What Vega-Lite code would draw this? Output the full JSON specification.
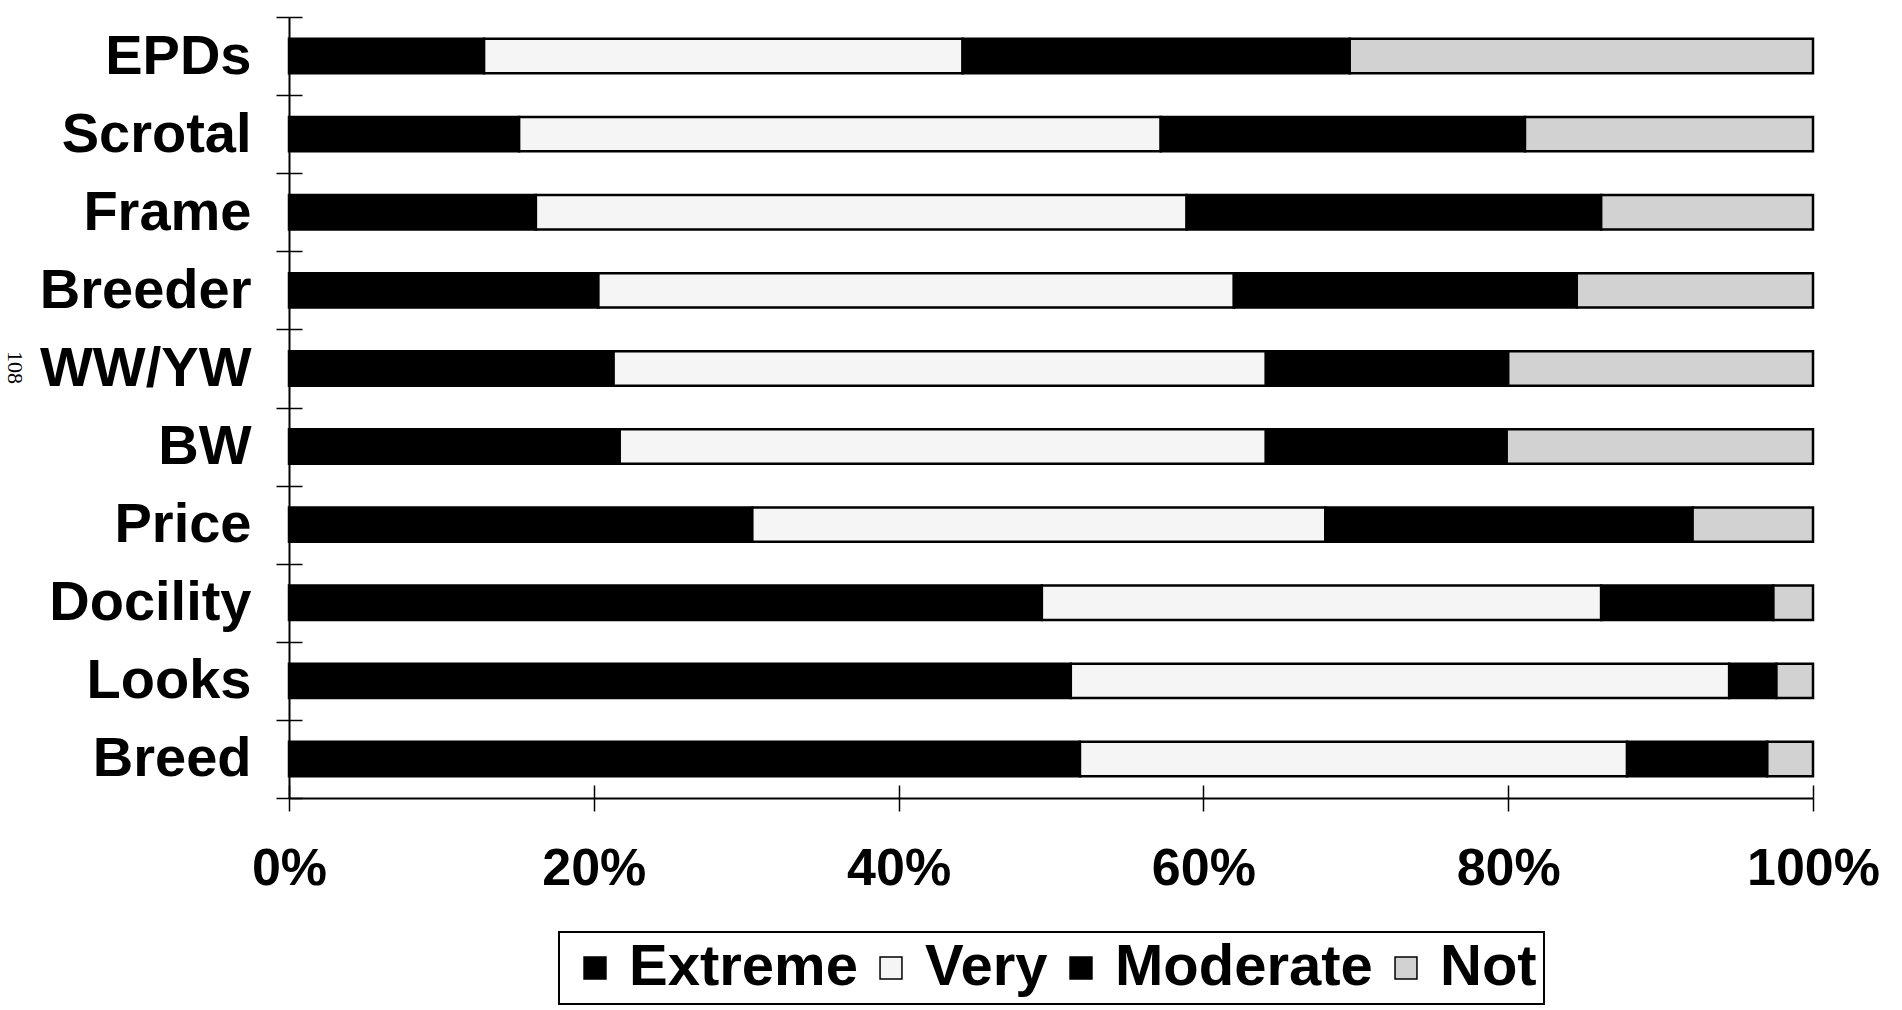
{
  "$schema": "https://vega.github.io/schema/vega-lite/v6.json",
  "autosize": "none",
  "width": 1524,
  "height": 781,
  "padding": {"left": 289, "top": 17, "right": 89, "bottom": 212},
  "background": "white",
  "data": {
    "values": [
      {"trait": "EPDs", "level": "Extreme", "rank": 1, "share": 12.8},
      {"trait": "EPDs", "level": "Very", "rank": 2, "share": 31.4},
      {"trait": "EPDs", "level": "Moderate", "rank": 3, "share": 25.4},
      {"trait": "EPDs", "level": "Not", "rank": 4, "share": 30.4},
      {"trait": "Scrotal", "level": "Extreme", "rank": 1, "share": 15.1},
      {"trait": "Scrotal", "level": "Very", "rank": 2, "share": 42.1},
      {"trait": "Scrotal", "level": "Moderate", "rank": 3, "share": 23.9},
      {"trait": "Scrotal", "level": "Not", "rank": 4, "share": 18.9},
      {"trait": "Frame", "level": "Extreme", "rank": 1, "share": 16.2},
      {"trait": "Frame", "level": "Very", "rank": 2, "share": 42.7},
      {"trait": "Frame", "level": "Moderate", "rank": 3, "share": 27.2},
      {"trait": "Frame", "level": "Not", "rank": 4, "share": 13.9},
      {"trait": "Breeder", "level": "Extreme", "rank": 1, "share": 20.3},
      {"trait": "Breeder", "level": "Very", "rank": 2, "share": 41.7},
      {"trait": "Breeder", "level": "Moderate", "rank": 3, "share": 22.5},
      {"trait": "Breeder", "level": "Not", "rank": 4, "share": 15.5},
      {"trait": "WW/YW", "level": "Extreme", "rank": 1, "share": 21.3},
      {"trait": "WW/YW", "level": "Very", "rank": 2, "share": 42.8},
      {"trait": "WW/YW", "level": "Moderate", "rank": 3, "share": 15.9},
      {"trait": "WW/YW", "level": "Not", "rank": 4, "share": 20.0},
      {"trait": "BW", "level": "Extreme", "rank": 1, "share": 21.7},
      {"trait": "BW", "level": "Very", "rank": 2, "share": 42.4},
      {"trait": "BW", "level": "Moderate", "rank": 3, "share": 15.8},
      {"trait": "BW", "level": "Not", "rank": 4, "share": 20.1},
      {"trait": "Price", "level": "Extreme", "rank": 1, "share": 30.4},
      {"trait": "Price", "level": "Very", "rank": 2, "share": 37.6},
      {"trait": "Price", "level": "Moderate", "rank": 3, "share": 24.1},
      {"trait": "Price", "level": "Not", "rank": 4, "share": 7.9},
      {"trait": "Docility", "level": "Extreme", "rank": 1, "share": 49.4},
      {"trait": "Docility", "level": "Very", "rank": 2, "share": 36.7},
      {"trait": "Docility", "level": "Moderate", "rank": 3, "share": 11.3},
      {"trait": "Docility", "level": "Not", "rank": 4, "share": 2.6},
      {"trait": "Looks", "level": "Extreme", "rank": 1, "share": 51.3},
      {"trait": "Looks", "level": "Very", "rank": 2, "share": 43.2},
      {"trait": "Looks", "level": "Moderate", "rank": 3, "share": 3.1},
      {"trait": "Looks", "level": "Not", "rank": 4, "share": 2.4},
      {"trait": "Breed", "level": "Extreme", "rank": 1, "share": 51.9},
      {"trait": "Breed", "level": "Very", "rank": 2, "share": 35.9},
      {"trait": "Breed", "level": "Moderate", "rank": 3, "share": 9.2},
      {"trait": "Breed", "level": "Not", "rank": 4, "share": 3.0}
    ]
  },
  "layer": [
    {
      "mark": {"type": "bar", "height": {"band": 0.44}, "stroke": "black", "strokeWidth": 2.5},
      "encoding": {
        "y": {
          "field": "trait",
          "type": "nominal",
          "sort": ["EPDs", "Scrotal", "Frame", "Breeder", "WW/YW", "BW", "Price", "Docility", "Looks", "Breed"],
          "scale": {"paddingInner": 0, "paddingOuter": 0},
          "axis": {
            "orient": "left",
            "title": "108",
            "titleFont": "Liberation Serif",
            "titleFontSize": 22,
            "titleFontWeight": "normal",
            "titleAngle": 90,
            "titleX": -287,
            "titleY": 350,
            "tickBand": "extent",
            "tickSize": 13,
            "labelPadding": 25,
            "labelFontSize": 56,
            "labelLimit": 0
          }
        },
        "x": {
          "field": "share",
          "type": "quantitative",
          "stack": "normalize",
          "scale": {"domain": [0, 1], "nice": false},
          "axis": {
            "orient": "bottom",
            "title": null,
            "format": ".0%",
            "values": [0, 0.2, 0.4, 0.6, 0.8, 1],
            "tickSize": 13,
            "labelPadding": 32,
            "labelFontSize": 52,
            "labelFlush": false
          }
        },
        "order": {"field": "rank", "type": "quantitative"},
        "color": {
          "field": "level",
          "type": "nominal",
          "scale": {
            "domain": ["Extreme", "Very", "Moderate", "Not"],
            "range": ["#000000", "#f5f5f5", "#000000", "#d2d2d2"]
          },
          "legend": {
            "orient": "bottom",
            "direction": "horizontal",
            "title": null,
            "symbolType": "square",
            "symbolSize": 480,
            "symbolStrokeColor": "black",
            "symbolStrokeWidth": 1.5,
            "symbolOpacity": 1,
            "labelFontSize": 58,
            "labelLimit": 0,
            "labelOffset": 5,
            "columnPadding": 4,
            "padding": 7,
            "strokeColor": "black",
            "offset": 38
          }
        }
      }
    },
    {
      "mark": {"type": "bar", "height": {"band": 0.44}, "opacity": 0},
      "encoding": {
        "y": {
          "field": "trait",
          "type": "nominal",
          "sort": ["EPDs", "Scrotal", "Frame", "Breeder", "WW/YW", "BW", "Price", "Docility", "Looks", "Breed"],
          "axis": {
            "orient": "left",
            "title": null,
            "tickBand": "extent",
            "tickSize": -13,
            "labels": false,
            "domain": false
          }
        },
        "x": {
          "field": "share",
          "type": "quantitative",
          "stack": "normalize",
          "axis": {
            "orient": "bottom",
            "title": null,
            "values": [0, 0.2, 0.4, 0.6, 0.8, 1],
            "tickSize": -13,
            "labels": false,
            "domain": false
          }
        },
        "order": {"field": "rank", "type": "quantitative"}
      }
    }
  ],
  "resolve": {"axis": {"x": "independent", "y": "independent"}},
  "config": {
    "view": {"stroke": null},
    "font": "Liberation Sans",
    "axis": {
      "grid": false,
      "labelFont": "Liberation Sans",
      "labelFontWeight": "bold",
      "labelColor": "black",
      "domainColor": "black",
      "domainWidth": 2,
      "tickColor": "black",
      "tickWidth": 1.5
    },
    "legend": {
      "labelFont": "Liberation Sans",
      "labelFontWeight": "bold",
      "labelColor": "black",
      "strokeWidth": 2,
      "layout": {"bottom": {"anchor": "middle"}}
    }
  }
}
